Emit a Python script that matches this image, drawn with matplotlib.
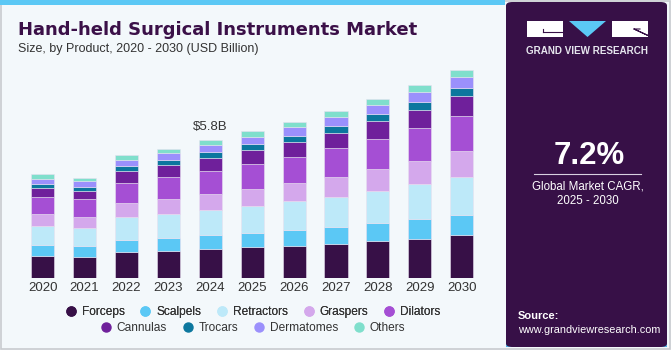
import matplotlib.pyplot as plt
import matplotlib.patches as mpatches
from matplotlib.lines import Line2D
from matplotlib.colors import LinearSegmentedColormap
import numpy as np

plt.rcParams['font.family'] = ['Liberation Sans', 'DejaVu Sans']

years = ['2020', '2021', '2022', '2023', '2024', '2025', '2026', '2027', '2028', '2029', '2030']
segments = ['Forceps', 'Scalpels', 'Retractors', 'Graspers', 'Dilators',
            'Cannulas', 'Trocars', 'Dermatomes', 'Others']
forceps    = [0.91, 0.88, 1.08, 1.13, 1.20, 1.29, 1.36, 1.44, 1.54, 1.65, 1.79]
scalpels   = [0.46, 0.45, 0.53, 0.57, 0.59, 0.62, 0.67, 0.71, 0.77, 0.84, 0.87]
retractors = [0.80, 0.76, 0.95, 0.98, 1.08, 1.12, 1.19, 1.27, 1.36, 1.46, 1.58]
graspers   = [0.52, 0.48, 0.60, 0.63, 0.66, 0.73, 0.77, 0.84, 0.91, 0.98, 1.08]
dilators   = [0.71, 0.73, 0.85, 0.94, 0.98, 1.05, 1.11, 1.19, 1.26, 1.37, 1.48]
cannulas   = [0.39, 0.36, 0.48, 0.49, 0.55, 0.56, 0.63, 0.66, 0.74, 0.78, 0.85]
trocars    = [0.18, 0.18, 0.22, 0.22, 0.22, 0.25, 0.25, 0.29, 0.32, 0.32, 0.35]
dermatomes = [0.20, 0.22, 0.27, 0.29, 0.31, 0.32, 0.35, 0.36, 0.38, 0.42, 0.45]
others     = [0.20, 0.14, 0.18, 0.18, 0.22, 0.24, 0.24, 0.24, 0.25, 0.29, 0.31]
colors = ['#371047', '#5bc8f5', '#bde9f9', '#d4a8ec', '#a54fd4',
          '#6f209b', '#0c779e', '#9b90fc', '#7fdfcc']
callout_year = '2024'
callout_text = '$5.8B'

W, H = 671, 350
fig = plt.figure(figsize=(W / 100, H / 100), dpi=100)
fig.patch.set_facecolor('#f3f8fb')


def fx(px):
    return px / W


def fy(py):
    return 1 - py / H


# frame, top strip and right panel
fig.add_artist(mpatches.Rectangle((0.001, 0.003), 0.998, 0.994, transform=fig.transFigure,
                                  facecolor='none', edgecolor='#c8cbcf', linewidth=1.2))
fig.add_artist(mpatches.Rectangle((0, fy(5)), fx(505), 5 / H, transform=fig.transFigure,
                                  facecolor='#5bc8f5', edgecolor='none'))
fig.add_artist(mpatches.FancyBboxPatch((fx(506), fy(347)), fx(161), 345 / H,
                                       boxstyle='round,pad=0,rounding_size=0.01',
                                       transform=fig.transFigure,
                                       facecolor='#371047', edgecolor='none'))

# gradient at the bottom of the right panel
gax = fig.add_axes([fx(506), fy(347), fx(161), 64 / H])
grad = np.linspace(0, 1, 100)[:, None]
cmap = LinearSegmentedColormap.from_list('g', ['#4fb3e6', '#4a78bd', '#41307a', '#371047'])
gax.imshow(grad, aspect='auto', cmap=cmap, extent=[0, 1, 0, 1], origin='lower')
for k in np.linspace(-1.5, 2.5, 22):
    gax.plot([0.5 + (k - 0.5) * 0.25, k], [0.9, 0], color='white', alpha=0.12, lw=0.5)
for h in np.linspace(0, 0.9, 9) ** 1.4:
    gax.plot([0, 1], [0.9 - h, 0.9 - h], color='white', alpha=0.12, lw=0.5)
gax.set_xlim(0, 1)
gax.set_ylim(0, 1)
gax.axis('off')

# logo
fig.add_artist(mpatches.Rectangle((fx(527), fy(37)), 36 / W, 16 / H, transform=fig.transFigure,
                                  facecolor='white', edgecolor='none'))
fig.add_artist(mpatches.Rectangle((fx(612), fy(37)), 36 / W, 16 / H, transform=fig.transFigure,
                                  facecolor='white', edgecolor='none'))
fig.add_artist(mpatches.Polygon([(fx(569), fy(21)), (fx(606), fy(21)), (fx(587.5), fy(37))],
                                transform=fig.transFigure, facecolor='#5bc8f5', edgecolor='none'))
fig.add_artist(Line2D([fx(543), fx(563)], [fy(32), fy(32)], transform=fig.transFigure,
                      color='#371047', lw=0.8))
fig.add_artist(Line2D([fx(543), fx(543)], [fy(29), fy(32)], transform=fig.transFigure,
                      color='#371047', lw=0.8))
fig.add_artist(Line2D([fx(634), fx(648), fx(634), fx(640)], [fy(29), fy(35.5), fy(29), fy(29)],
                      transform=fig.transFigure, color='#371047', lw=0.8))
fig.text(fx(587.5), fy(51), 'GRAND VIEW RESEARCH', color='#e6e6ee', fontsize=7.1,
         fontweight='bold', ha='center', va='center')

# CAGR box
fig.text(fx(589), fy(156), '7.2%', color='white', fontsize=22.5, fontweight='bold',
         ha='center', va='center')
fig.add_artist(Line2D([fx(534), fx(641)], [fy(173.5), fy(173.5)], transform=fig.transFigure,
                      color='#d8d0e0', lw=0.8))
fig.text(fx(588), fy(186), 'Global Market CAGR,', color='white', fontsize=8.3,
         ha='center', va='center')
fig.text(fx(588), fy(201), '2025 - 2030', color='white', fontsize=8.3,
         ha='center', va='center')
fig.text(fx(518), fy(316), 'Source:', color='white', fontsize=8, fontweight='bold',
         ha='left', va='center')
fig.text(fx(518), fy(330), 'www.grandviewresearch.com', color='white', fontsize=7.8,
         ha='left', va='center')

# titles
fig.text(fx(18), fy(30), 'Hand-held Surgical Instruments Market', color='#3b1048',
         fontsize=13, fontweight='bold', ha='left', va='center', family='DejaVu Sans')
fig.text(fx(18), fy(49), 'Size, by Product, 2020 - 2030 (USD Billion)', color='#333333',
         fontsize=9, ha='left', va='center')

# bars
ax = fig.add_axes([fx(10), fy(278), fx(485), 218 / H])
ax.set_facecolor('none')
series = [forceps, scalpels, retractors, graspers, dilators, cannulas, trocars, dermatomes, others]
x = np.arange(len(years))
bottom = np.zeros(len(years))
for name, vals, c in zip(segments, series, colors):
    ax.bar(x, vals, 0.55, bottom=bottom, color=c, edgecolor='#e8e0f0', linewidth=0.4, label=name)
    bottom += np.array(vals)

i = years.index(callout_year)
ax.text(x[i], bottom[i] + 0.3, callout_text, ha='center', va='bottom', fontsize=9.5, color='#333333')

ax.set_xlim((10 - 42.7) / 41.9, (495 - 42.7) / 41.9)
ax.set_ylim(0, 218 / 23.79)
ax.set_xticks(x)
ax.set_xticklabels(years, fontsize=9.5, color='#333333')
ax.tick_params(axis='x', length=0, pad=3)
ax.set_yticks([])
for s in ax.spines.values():
    s.set_visible(False)

# legend in two centred rows
handles = [Line2D([], [], marker='o', linestyle='none', markersize=6.5,
                  markerfacecolor=c, markeredgecolor=c) for c in colors]
leg_kw = dict(loc='center', frameon=False, fontsize=8.6, handlelength=0.8, handletextpad=0.5,
              columnspacing=1.35, labelcolor='#333333', borderaxespad=0, borderpad=0)
leg1 = fig.legend(handles[:5], segments[:5], ncol=5, bbox_to_anchor=(fx(253), fy(312)), **leg_kw)
fig.legend(handles[5:], segments[5:], ncol=4, bbox_to_anchor=(fx(253), fy(328)), **leg_kw)
fig.add_artist(leg1)

fig.savefig('out.png', dpi=100, facecolor=fig.get_facecolor())
